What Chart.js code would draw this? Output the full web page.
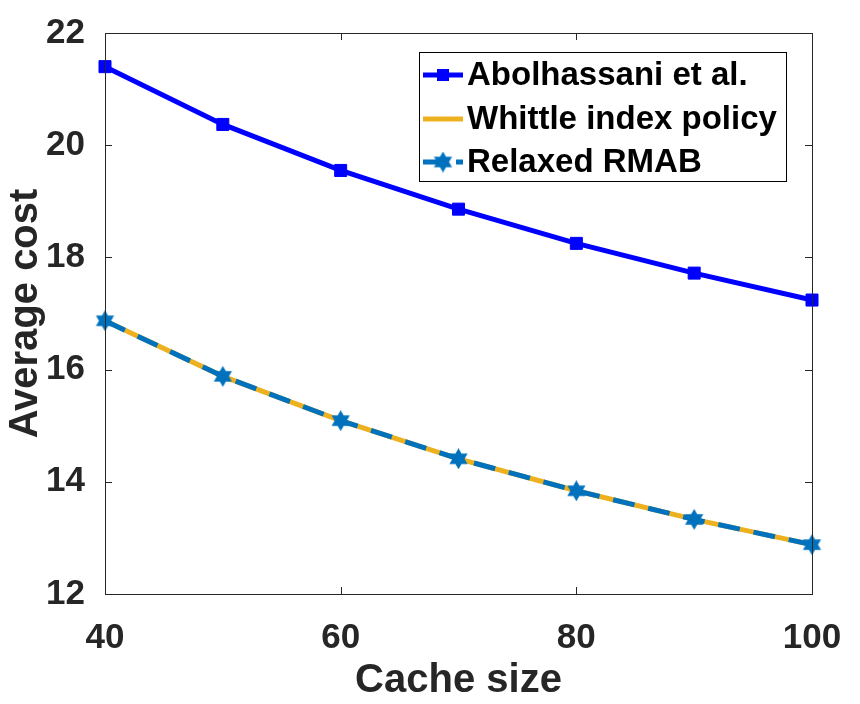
<!DOCTYPE html>
<html>
<head>
<meta charset="utf-8">
<script src="https://cdn.jsdelivr.net/npm/chart.js@4/dist/chart.umd.min.js"></script>
<style>
  html, body { margin: 0; padding: 0; background: #fff; }
  #wrap { width: 860px; height: 704px; }
</style>
</head>
<body>
<div id="wrap"><canvas id="costChart" width="860" height="704"></canvas></div>
<script>
// data
const cacheSizes = [40, 50, 60, 70, 80, 90, 100];
const abolhassani = [21.40, 20.37, 19.55, 18.86, 18.25, 17.72, 17.24];
const whittle = [16.87, 15.88, 15.09, 14.41, 13.84, 13.33, 12.88];
const relaxed = [16.87, 15.88, 15.09, 14.41, 13.84, 13.33, 12.88];
const xTickValues = [40, 60, 80, 100];
const yTickValues = [12, 14, 16, 18, 20, 22];
const seriesLabels = ['Abolhassani et al.', 'Whittle index policy', 'Relaxed RMAB'];

const AXIS_COLOR = '#262626';
const FONT = 'Liberation Sans, Arial, Helvetica, sans-serif';

// six-pointed star marker (matlab hexagram)
function makeHexagram(size, color) {
  const c = document.createElement('canvas');
  c.width = size; c.height = size;
  const g = c.getContext('2d');
  const R = size / 2, r = R / Math.sqrt(3);
  g.beginPath();
  for (let i = 0; i < 12; i++) {
    const a = -Math.PI / 2 + i * Math.PI / 6;
    const rad = i % 2 === 0 ? R : r;
    const px = R + rad * Math.cos(a), py = R + rad * Math.sin(a);
    if (i === 0) g.moveTo(px, py); else g.lineTo(px, py);
  }
  g.closePath();
  g.fillStyle = color;
  g.fill();
  return c;
}
const starMarker = makeHexagram(21, '#0072BD');

function toPoints(ys) {
  return cacheSizes.map((x, i) => ({ x: x, y: ys[i] }));
}

// box, inward ticks and legend, drawn like matlab does
const matlabFrame = {
  id: 'matlabFrame',
  afterDraw(chart) {
    const ctx = chart.ctx;
    const a = chart.chartArea;
    const xs = chart.scales.x, ys = chart.scales.y;
    ctx.save();
    ctx.strokeStyle = AXIS_COLOR;
    ctx.lineWidth = 1;
    ctx.strokeRect(a.left + 0.5, a.top + 0.5, a.right - a.left, a.bottom - a.top);
    const tl = 7;
    ctx.beginPath();
    xTickValues.forEach(v => {
      const px = Math.round(xs.getPixelForValue(v)) + 0.5;
      ctx.moveTo(px, a.bottom); ctx.lineTo(px, a.bottom - tl);
      ctx.moveTo(px, a.top); ctx.lineTo(px, a.top + tl);
    });
    yTickValues.forEach(v => {
      const py = Math.round(ys.getPixelForValue(v)) + 0.5;
      ctx.moveTo(a.left, py); ctx.lineTo(a.left + tl, py);
      ctx.moveTo(a.right, py); ctx.lineTo(a.right - tl, py);
    });
    ctx.stroke();

    // legend
    const bx = 419.5, by = 52.5, bw = 367, bh = 129;
    ctx.fillStyle = '#fff';
    ctx.fillRect(bx, by, bw, bh);
    ctx.strokeStyle = '#000';
    ctx.strokeRect(bx, by, bw, bh);
    const rows = [75, 119, 162];
    const x0 = 423, x1 = 463;
    ctx.font = 'bold 33px ' + FONT;
    ctx.textBaseline = 'middle';
    ctx.textAlign = 'left';
    chart.data.datasets.forEach((ds, i) => {
      const y = rows[i];
      ctx.setLineDash(i === 2 ? [20, 13] : []);
      ctx.strokeStyle = ds.borderColor;
      ctx.lineWidth = 5;
      ctx.beginPath();
      ctx.moveTo(x0, y); ctx.lineTo(x1, y);
      ctx.stroke();
      ctx.setLineDash([]);
      if (i === 0) {
        ctx.fillStyle = ds.borderColor;
        ctx.fillRect(443 - 6, y - 6, 12, 12);
      } else if (i === 2) {
        ctx.drawImage(starMarker, 443 - starMarker.width / 2, y - starMarker.height / 2);
      }
      ctx.fillStyle = '#000';
      ctx.fillText(ds.label, 467, y + 1);
    });
    ctx.restore();
  }
};

document.addEventListener('DOMContentLoaded', function () {
  const ctx = document.getElementById('costChart').getContext('2d');
  new Chart(ctx, {
    type: 'line',
    data: {
      datasets: [
        {
          label: seriesLabels[0],
          data: toPoints(abolhassani),
          borderColor: '#0000FF',
          backgroundColor: '#0000FF',
          borderWidth: 5,
          pointStyle: 'rect',
          pointRadius: 8.5,
          pointBorderWidth: 1,
          tension: 0,
          clip: false,
          order: 2
        },
        {
          label: seriesLabels[1],
          data: toPoints(whittle),
          borderColor: '#EDB120',
          backgroundColor: '#EDB120',
          borderWidth: 5,
          pointRadius: 0,
          tension: 0,
          clip: false,
          order: 1
        },
        {
          label: seriesLabels[2],
          data: toPoints(relaxed),
          borderColor: '#0072BD',
          backgroundColor: '#0072BD',
          borderWidth: 5,
          borderDash: [22, 14],
          pointStyle: starMarker,
          pointRadius: 10,
          tension: 0,
          clip: false,
          order: 0
        }
      ]
    },
    options: {
      responsive: false,
      animation: false,
      devicePixelRatio: 1,
      layout: { padding: { top: 30, right: 48, left: 0, bottom: 0 } },
      plugins: {
        legend: { display: false },
        tooltip: { enabled: false }
      },
      scales: {
        x: {
          type: 'linear',
          min: 40,
          max: 100,
          grid: { display: false },
          border: { display: false },
          afterBuildTicks: s => { s.ticks = xTickValues.map(v => ({ value: v })); },
          afterFit: s => { s.height = 110; },
          ticks: {
            color: AXIS_COLOR,
            padding: 15,
            font: { family: FONT, size: 35, weight: 'bold' }
          },
          title: {
            display: true,
            text: 'Cache size',
            color: AXIS_COLOR,
            padding: { top: 0, bottom: 0 },
            font: { family: FONT, size: 40, weight: 'bold', lineHeight: 1.15 }
          }
        },
        y: {
          type: 'linear',
          min: 12,
          max: 22,
          grid: { display: false },
          border: { display: false },
          afterBuildTicks: s => { s.ticks = yTickValues.map(v => ({ value: v })); },
          afterFit: s => { s.width = 105; },
          ticks: {
            color: AXIS_COLOR,
            padding: 12,
            font: { family: FONT, size: 35, weight: 'bold' }
          },
          title: {
            display: true,
            text: 'Average cost',
            color: AXIS_COLOR,
            padding: { top: 2, bottom: 0 },
            font: { family: FONT, size: 40, weight: 'bold', lineHeight: 1.2 }
          }
        }
      }
    },
    plugins: [matlabFrame]
  });
});
</script>
</body>
</html>
